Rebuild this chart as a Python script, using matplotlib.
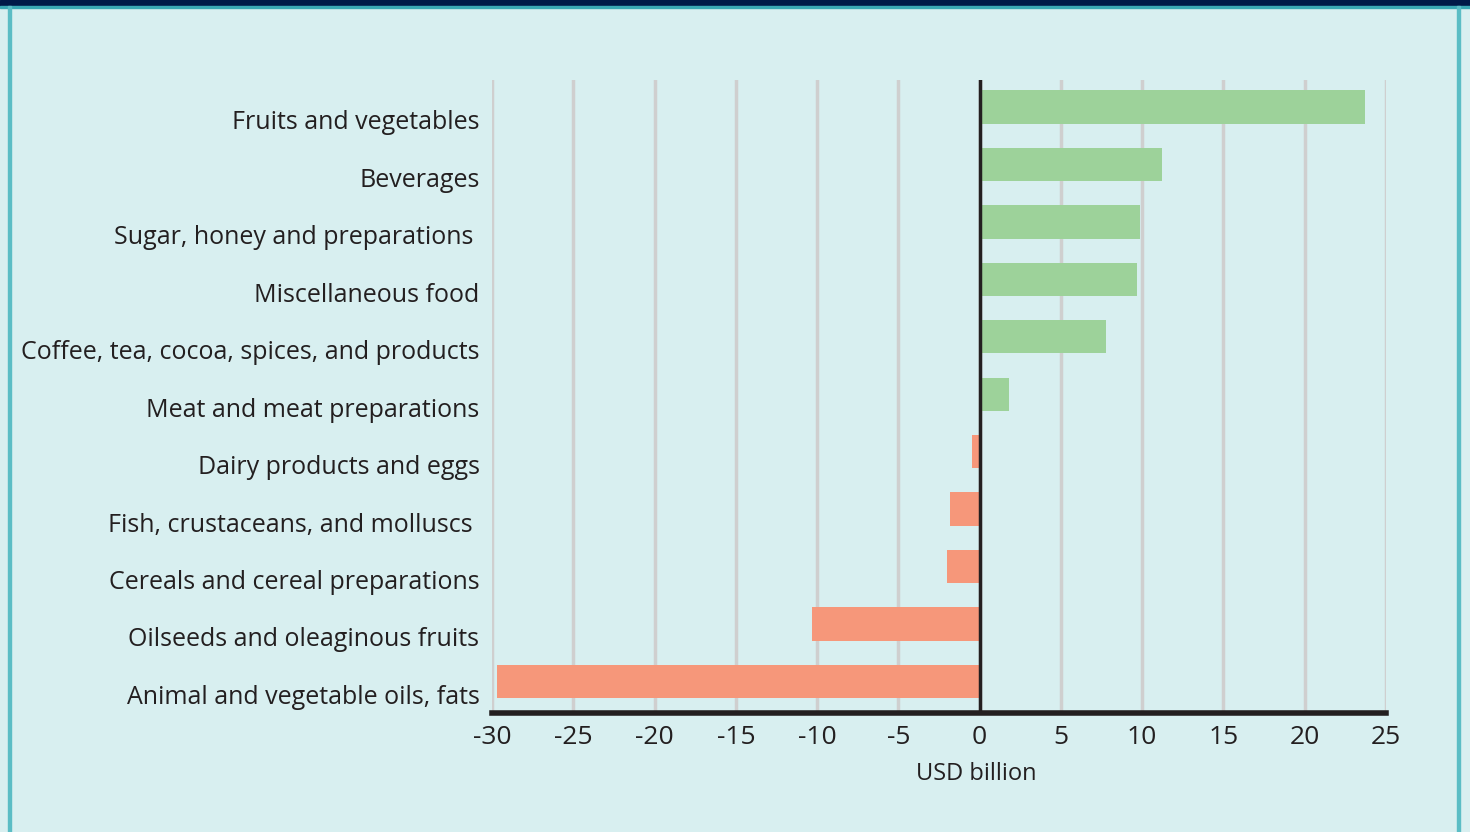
import matplotlib.pyplot as plt
import matplotlib.transforms as mtransforms
from matplotlib.patches import Rectangle
import numpy as np

categories = ['Fruits and vegetables', 'Beverages', 'Sugar, honey and preparations ',
              'Miscellaneous food', 'Coffee, tea, cocoa, spices, and products',
              'Meat and meat preparations', 'Dairy products and eggs',
              'Fish, crustaceans, and molluscs ', 'Cereals and cereal preparations',
              'Oilseeds and oleaginous fruits', 'Animal and vegetable oils, fats']
values = [23.7, 11.2, 9.85, 9.7, 7.75, 1.8, -0.45, -1.85, -2.0, -10.3, -29.7]
xticks = [-30, -25, -20, -15, -10, -5, 0, 5, 10, 15, 20, 25]

bg = '#D8EFF0'
txt = '#231F20'
plt.rcParams['font.family'] = ['Open Sans', 'DejaVu Sans']

fig = plt.figure(figsize=(14.7, 8.32), dpi=100)
fig.patch.set_facecolor(bg)

# frame: navy band on top, teal lines at sides
fig.patches.append(Rectangle((0, 1 - 6/832), 1, 6/832, transform=fig.transFigure,
                             color='#001a48', zorder=0))
fig.patches.append(Rectangle((0, 1 - 8/832), 1, 2/832, transform=fig.transFigure,
                             color='#3aa8b4', zorder=0))
fig.patches.append(Rectangle((8/1470, 0), 2.5/1470, 1 - 6/832, transform=fig.transFigure,
                             color='#5bbdc5', zorder=0))
fig.patches.append(Rectangle((1457/1470, 0), 3/1470, 1 - 6/832, transform=fig.transFigure,
                             color='#5bbdc5', zorder=0))

ax = fig.add_axes([492/1470, 1 - 713/832, (1386 - 492)/1470, (713 - 80)/832])
ax.set_facecolor(bg)

y = np.arange(len(categories))[::-1]
colors = ['#9DD29A' if v > 0 else '#F6977A' for v in values]
ax.barh(y, values, height=0.58, color=colors, zorder=2)

ax.set_xlim(-30, 25)
ax.set_ylim(-0.55, 10.47)
ax.set_xticks(xticks)
ax.set_xticklabels([str(t) for t in xticks], fontsize=19, color=txt)
ax.set_yticks(y)
ax.set_yticklabels(categories, fontsize=18, color=txt)
ax.tick_params(axis='both', length=0)
ax.tick_params(axis='y', pad=9)
ax.tick_params(axis='x', pad=9)
offset = mtransforms.ScaledTranslation(0, -0.13, fig.dpi_scale_trans)
for lab in ax.get_yticklabels():
    lab.set_transform(lab.get_transform() + offset)

ax.grid(axis='x', color='#CFCFCF', linewidth=2.5, zorder=0)
ax.axvline(0, color='#231F20', linewidth=2.5, zorder=3)
for s in ['top', 'right', 'left']:
    ax.spines[s].set_visible(False)
ax.spines['bottom'].set_color('#231F20')
ax.spines['bottom'].set_linewidth(4)
ax.spines['bottom'].set_zorder(4)

ax.set_xlabel('USD billion', fontsize=17, color=txt)
ax.xaxis.set_label_coords((976 - 492) / 894, -0.078)

fig.savefig('out.png', dpi=100, facecolor=bg)
